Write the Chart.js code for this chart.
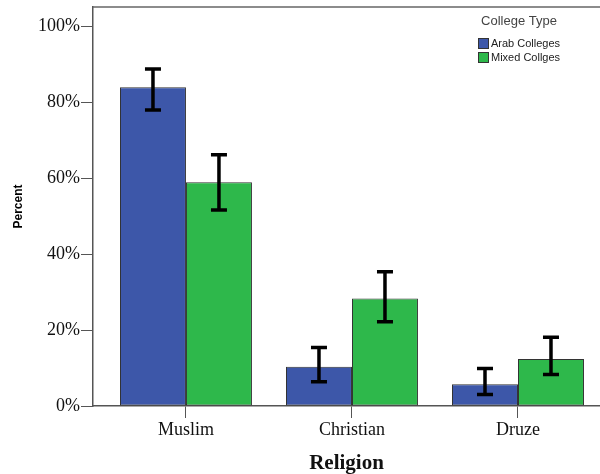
<!DOCTYPE html>
<html>
<head>
<meta charset="utf-8">
<script src="https://cdn.jsdelivr.net/npm/chart.js@4/dist/chart.umd.min.js"></script>
<style>
  html, body { margin: 0; padding: 0; background: #fff; }
  #box { width: 600px; height: 474px; position: relative; }
</style>
</head>
<body>
<div id="box"><canvas id="religionChart"></canvas></div>
<script>
// Religion by college type, percent with error bars
var religioes = ['Muslim', 'Christian', 'Druze'];
var tiposFaculdade = ['Arab Colleges', 'Mixed Collges'];

var arabPct = [83.9, 10.3, 5.7];
var arabErrLow = [77.9, 6.4, 3.0];
var arabErrHigh = [88.7, 15.4, 9.9];

var mixedPct = [58.9, 28.3, 12.4];
var mixedErrLow = [51.6, 22.2, 8.3];
var mixedErrHigh = [66.1, 35.3, 18.1];

var yTicks = [0, 20, 40, 60, 80, 100];

var serif = "'Liberation Serif', 'Times New Roman', serif";
var sans = "'Liberation Sans', Arial, sans-serif";

var errLows = [arabErrLow, mixedErrLow];
var errHighs = [arabErrHigh, mixedErrHigh];

// barras de erro (I-beam) em cima de cada barra
var errorBars = {
  id: 'errorBars',
  afterDatasetsDraw: function(chart) {
    var ctx = chart.ctx;
    var y = chart.scales.y;
    ctx.save();
    ctx.strokeStyle = '#000';
    ctx.lineWidth = 3.5;
    chart.data.datasets.forEach(function(ds, d) {
      chart.getDatasetMeta(d).data.forEach(function(bar, i) {
        var top = y.getPixelForValue(errHighs[d][i]);
        var bot = y.getPixelForValue(errLows[d][i]);
        ctx.beginPath();
        ctx.moveTo(bar.x, top); ctx.lineTo(bar.x, bot);
        ctx.moveTo(bar.x - 8, top); ctx.lineTo(bar.x + 8, top);
        ctx.moveTo(bar.x - 8, bot); ctx.lineTo(bar.x + 8, bot);
        ctx.stroke();
      });
    });
    ctx.restore();
  }
};

// moldura de cima + legenda "College Type"
var frameLegend = {
  id: 'frameLegend',
  afterDraw: function(chart) {
    var ctx = chart.ctx;
    var a = chart.chartArea;
    ctx.save();
    ctx.strokeStyle = '#666';
    ctx.lineWidth = 1.5;
    ctx.beginPath();
    ctx.moveTo(a.left, a.top);
    ctx.lineTo(a.right, a.top);
    ctx.stroke();

    ctx.fillStyle = '#444';
    ctx.font = '13px ' + sans;
    ctx.textAlign = 'center';
    ctx.textBaseline = 'middle';
    ctx.fillText('College Type', 519, 21);

    ctx.textAlign = 'left';
    ctx.font = '11px ' + sans;
    chart.data.datasets.forEach(function(ds, d) {
      var yy = 38 + d * 14;
      ctx.fillStyle = ds.backgroundColor;
      ctx.fillRect(478, yy, 10, 10);
      ctx.strokeStyle = '#333';
      ctx.lineWidth = 1;
      ctx.strokeRect(478.5, yy + 0.5, 10, 10);
      ctx.fillStyle = '#222';
      ctx.fillText(ds.label, 491, yy + 5.5);
    });
    ctx.restore();
  }
};

var ctx = document.getElementById('religionChart').getContext('2d');
var religionChart = new Chart(ctx, {
  type: 'bar',
  data: {
    datasets: [{
      label: tiposFaculdade[0],
      data: arabPct.map(function(v, i) { return { x: i, y: v }; }),
      backgroundColor: '#3d57a9',
      borderColor: '#333',
      borderWidth: 1,
      borderSkipped: false
    }, {
      label: tiposFaculdade[1],
      data: mixedPct.map(function(v, i) { return { x: i, y: v }; }),
      backgroundColor: '#2eb84b',
      borderColor: '#333',
      borderWidth: 1,
      borderSkipped: false
    }]
  },
  options: {
    responsive: true,
    maintainAspectRatio: false,
    animation: false,
    categoryPercentage: 0.795,
    barPercentage: 1,
    layout: { padding: { top: 7, right: 0, left: 0, bottom: 0 } },
    plugins: {
      legend: { display: false },
      tooltip: { enabled: false }
    },
    scales: {
      x: {
        type: 'linear',
        min: -0.56,
        max: 2.494,
        offset: false,
        afterBuildTicks: function(axis) {
          axis.ticks = religioes.map(function(c, i) { return { value: i }; });
        },
        afterFit: function(axis) {
          axis.height = 68;
          axis.paddingLeft = 0;
          axis.paddingRight = 0;
        },
        grid: { drawOnChartArea: false, offset: false, tickLength: 12, color: '#555' },
        border: { color: '#555', width: 1.5 },
        ticks: {
          padding: 1,
          color: '#111',
          font: { family: serif, size: 18 },
          maxRotation: 0,
          callback: function(v) { return religioes[v]; }
        },
        title: {
          display: true,
          text: 'Religion',
          color: '#111',
          font: { family: serif, size: 21, weight: 'bold', lineHeight: 1 },
          padding: { top: 0, bottom: 0 }
        }
      },
      y: {
        min: 0,
        max: 105,
        afterBuildTicks: function(axis) {
          axis.ticks = yTicks.map(function(v) { return { value: v }; });
        },
        afterFit: function(axis) {
          axis.width = 93;
          axis.paddingTop = 0;
          axis.paddingBottom = 0;
        },
        grid: { drawOnChartArea: false, tickLength: 12, color: '#555' },
        border: { color: '#555', width: 1.5 },
        ticks: {
          padding: 1,
          color: '#111',
          font: { family: serif, size: 18 },
          callback: function(v) { return v + '%'; }
        },
        title: {
          display: true,
          text: 'Percent',
          color: '#000',
          font: { family: sans, size: 12, weight: 'bold', lineHeight: 1.2 },
          padding: { top: 11, bottom: 0 }
        }
      }
    }
  },
  plugins: [errorBars, frameLegend]
});
</script>
</body>
</html>
